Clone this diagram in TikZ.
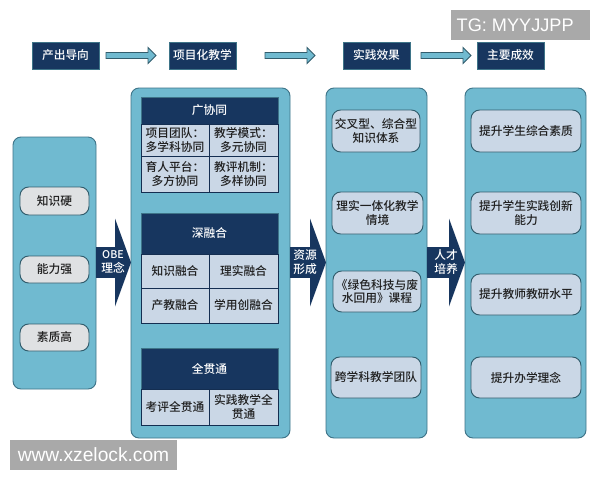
\documentclass[tikz,border=0pt]{standalone}
\usepackage{fontspec}
\setmainfont[UprightFont=* Medium]{Noto Sans CJK SC}
\newfontfamily\wmfont{Liberation Sans}
\usetikzlibrary{calc}
\definecolor{navy}{HTML}{17365F}
\definecolor{panelfill}{HTML}{70BAD0}
\definecolor{panelline}{HTML}{3E7488}
\definecolor{cellfill}{HTML}{CAD7E6}
\definecolor{pillgray}{HTML}{DFE1E3}
\definecolor{wmgray}{HTML}{A9A9A9}
\tikzset{
  x=0.75pt,y=-0.75pt,
  basebox/.style={inner sep=0pt,outer sep=0pt,align=center,font=\fontsize{8.8pt}{10pt}\selectfont},
  panel/.style={basebox,draw=panelline,line width=0.7pt,fill=panelfill,rounded corners=6pt},
  head/.style={basebox,fill=navy,draw=panelline,line width=0.4pt,text=white},
  cell/.style={basebox,fill=cellfill,draw=navy!85!black,line width=0.6pt,text=black!88},
  pill/.style={basebox,fill=cellfill,draw=panelline!80!black,line width=0.7pt,rounded corners=6.5pt,text=black!88},
  graypill/.style={pill,fill=pillgray},
  thinarrow/.style={fill=panelfill,draw=panelline!80!black,line width=0.7pt,line join=miter},
  bigarrow/.style={fill=navy,draw=none},
  arrowtext/.style={inner sep=0pt,align=center,text=white,font=\fontsize{8.8pt}{10pt}\selectfont},
  wmbox/.style={inner sep=0pt,outer sep=0pt,fill=wmgray,text=white,font=\wmfont\fontsize{13.6pt}{14pt}\selectfont},
  wmboxb/.style={wmbox,font=\wmfont\fontsize{14.4pt}{15pt}\selectfont},
}
% style, name, x1, y1, x2, y2, text
\newcommand{\bx}[7]{%
  \pgfmathsetmacro{\bxcx}{(#3+#5)/2}%
  \pgfmathsetmacro{\bxcy}{(#4+#6)/2}%
  \pgfmathsetmacro{\bxw}{(#5-#3)*0.75}%
  \pgfmathsetmacro{\bxh}{(#6-#4)*0.75}%
  \node[#1,minimum width=\bxw pt,minimum height=\bxh pt] (#2) at (\bxcx,\bxcy) {#7};%
}
% thin arrow between named nodes: from, to, gap at start, gap at end
\newcommand{\thinarr}[4]{%
  \draw[thinarrow] let \p1=(#1.east),\p2=(#2.west) in
    ($(\x1,\y1)+(#3,-3)$) -- ($(\x2,\y1)+(-#4-8,-3)$) -- ($(\x2,\y1)+(-#4-8,-8)$)
    -- ($(\x2,\y1)+(-#4,0)$) -- ($(\x2,\y1)+(-#4-8,8)$) -- ($(\x2,\y1)+(-#4-8,3)$)
    -- ($(\x1,\y1)+(#3,3)$) -- cycle;%
}
% big block arrow between named panels: from, to, centre y as coordinate, neck
\newcommand{\bigarr}[3]{%
  \fill[bigarrow] let \p1=(#1.east),\p2=(#2.west),\p3=(#3) in
    (\x1,\y3-11.6pt) -- (\x2-12pt,\y3-11.6pt) -- (\x2-12pt,\y3-33pt)
    -- (\x2,\y3) -- (\x2-12pt,\y3+33pt) -- (\x2-12pt,\y3+11.6pt) -- (\x1,\y3+11.6pt) -- cycle;%
}
\begin{document}
\begin{tikzpicture}
\useasboundingbox (0,0) rectangle (600,480);
\fill[white] (0,0) rectangle (600,480);

% top labels
\bx{head}{t1}{32}{42}{99}{69}{产出导向}
\bx{head}{t2}{169}{42}{236}{69}{项目化教学}
\bx{head}{t3}{343}{42}{410}{69}{实践效果}
\bx{head}{t4}{477}{42}{544}{69}{主要成效}
\thinarr{t1}{t2}{7}{13}
\thinarr{t2}{t3}{29}{28}
\thinarr{t3}{t4}{11}{6}

% panels
\bx{panel}{p1}{13}{137}{96}{389}{}
\bx{panel}{p2}{131}{88}{290}{438}{}
\bx{panel}{p3}{326}{88}{427}{438}{}
\bx{panel}{p4}{465}{88}{586}{438}{}

% left pills
\bx{graypill}{a1}{20}{187}{89}{215}{知识硬}
\bx{graypill}{a2}{20}{256}{89}{283}{能力强}
\bx{graypill}{a3}{20}{324}{89}{351}{素质高}

% table 1
\bx{head}{h1}{141}{97}{278}{124}{广协同}
\bx{cell}{c11}{141}{124}{209}{156}{项目团队：\\多学科协同}
\bx{cell}{c12}{209}{124}{278}{156}{教学模式：\\多元协同}
\bx{cell}{c13}{141}{156}{209}{192}{育人平台：\\多方协同}
\bx{cell}{c14}{209}{156}{278}{192}{教评机制：\\多样协同}

% table 2
\bx{head}{h2}{141}{213}{278}{254}{深融合}
\bx{cell}{c21}{141}{254}{209}{288}{知识融合}
\bx{cell}{c22}{209}{254}{278}{288}{理实融合}
\bx{cell}{c23}{141}{288}{209}{323}{产教融合}
\bx{cell}{c24}{209}{288}{278}{323}{学用创融合}

% table 3
\bx{head}{h3}{141}{348}{278}{389}{全贯通}
\bx{cell}{c31}{141}{389}{209}{425}{考评全贯通}
\bx{cell}{c32}{209}{389}{278}{425}{实践教学全\\贯通}

% panel 3 pills
\bx{pill}{e1}{332}{110}{420}{152}{交叉型、综合型\\知识体系}
\bx{pill}{e2}{332}{192}{423}{234}{理实一体化教学\\情境}
\bx{pill}{e3}{333}{271}{421}{312}{《绿色科技与废\\水回用》课程}
\bx{pill}{e4}{331}{357}{421}{398}{跨学科教学团队}

% panel 4 pills
\bx{pill}{r1}{471}{110}{581}{152}{提升学生综合素质}
\bx{pill}{r2}{471}{192}{581}{234}{提升学生实践创新\\能力}
\bx{pill}{r3}{471}{274}{581}{315}{提升教师教研水平}
\bx{pill}{r4}{471}{357}{581}{398}{提升办学理念}

% block arrows
\coordinate (ya) at (0,262.5);
\bigarr{p1}{p2}{ya}
\bigarr{p2}{p3}{ya}
\bigarr{p3}{p4}{ya}
\node[arrowtext] (n1) at (113,262) {\fontsize{8pt}{10pt}\selectfont OBE\\理念};
\node[arrowtext] (n2) at (305,262) {资源\\形成};
\node[arrowtext] (n3) at (446,262) {人才\\培养};

% watermarks
\bx{wmbox}{w1}{451}{10}{590}{40}{\hspace*{-8pt}TG: MYYJJPP}
\bx{wmboxb}{w2}{10}{440}{177}{470}{www.xzelock.com}
\end{tikzpicture}
\end{document}
